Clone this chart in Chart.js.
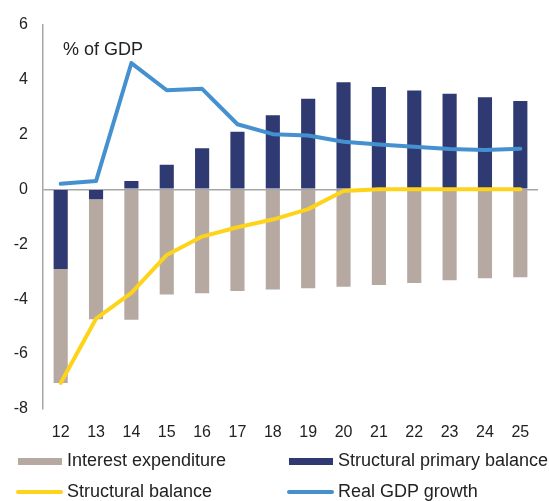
<!DOCTYPE html>
<html>
<head>
<meta charset="utf-8">
<script src="https://cdn.jsdelivr.net/npm/chart.js@4/dist/chart.umd.min.js"></script>
<style>
  html, body { margin: 0; padding: 0; background: #fff; }
  #wrap { position: relative; width: 549px; height: 501px; }
  #legend { position: absolute; left: 0; top: 0; width: 549px; height: 501px; pointer-events: none;
            font-family: "Liberation Sans", Arial, sans-serif; font-size: 18px; color: #222; }
  .item { position: absolute; line-height: 20px; white-space: nowrap; }
  .sw { position: absolute; }
</style>
</head>
<body>
<div id="wrap">
  <canvas id="chart" width="549" height="501"></canvas>
  <div id="legend"></div>
</div>
<script>
const years = ['12', '13', '14', '15', '16', '17', '18', '19', '20', '21', '22', '23', '24', '25'];
const primaryBalance = [-2.9, -0.36, 0.3, 0.9, 1.5, 2.1, 2.7, 3.3, 3.9, 3.73, 3.6, 3.48, 3.35, 3.22];
const interestExp = [-4.15, -4.37, -4.75, -3.83, -3.78, -3.7, -3.65, -3.6, -3.55, -3.48, -3.41, -3.31, -3.24, -3.2];
const structuralBalance = [-7.05, -4.71, -3.77, -2.39, -1.72, -1.38, -1.1, -0.72, -0.06, 0, 0, 0, 0, 0];
const gdpGrowth = [0.2, 0.3, 4.6, 3.61, 3.66, 2.37, 2.01, 1.96, 1.73, 1.63, 1.55, 1.47, 1.43, 1.48];
const yTicks = [-8, -6, -4, -2, 0, 2, 4, 6];

const NAVY = '#2f3a72', TAN = '#b6a9a2', YELLOW = '#fdd419', BLUE = '#4591d0', AXIS = '#a6a6a6';
const FONT = '"Liberation Sans", Arial, sans-serif';

const unitLabel = {
  id: 'unitLabel',
  afterDraw(chart) {
    const { ctx, chartArea } = chart;
    ctx.save();
    ctx.font = '18px ' + FONT;
    ctx.fillStyle = '#222';
    ctx.textBaseline = 'alphabetic';
    ctx.fillText('% of GDP', chartArea.left + 20, chartArea.top + 30);
    ctx.restore();
  }
};

const chart = new Chart(document.getElementById('chart'), {
  type: 'bar',
  data: {
    labels: years,
    datasets: [
      { type: 'line', label: 'Structural balance', data: structuralBalance, stack: 'sb',
        borderColor: YELLOW, backgroundColor: YELLOW, borderWidth: 4, pointRadius: 0,
        borderCapStyle: 'round', borderJoinStyle: 'round', tension: 0, legendPos: [2, 0] },
      { type: 'line', label: 'Real GDP growth', data: gdpGrowth, stack: 'gdp',
        borderColor: BLUE, backgroundColor: BLUE, borderWidth: 4, pointRadius: 0,
        borderCapStyle: 'round', borderJoinStyle: 'round', tension: 0, legendPos: [2, 1] },
      { label: 'Structural primary balance', data: primaryBalance, stack: 'bal',
        backgroundColor: NAVY, legendPos: [1, 1] },
      { label: 'Interest expenditure', data: interestExp, stack: 'bal',
        backgroundColor: TAN, legendPos: [1, 0] }
    ]
  },
  options: {
    responsive: false,
    animation: false,
    layout: { padding: { left: 0, right: 11, top: 23, bottom: 52 } },
    datasets: { bar: { categoryPercentage: 1, barPercentage: 0.4 } },
    plugins: { legend: { display: false }, tooltip: { enabled: false } },
    scales: {
      x: {
        stacked: true,
        grid: { display: false },
        border: { display: false },
        ticks: { color: '#222', font: { family: FONT, size: 16 }, padding: 6, maxRotation: 0 },
        afterFit(scale) { scale.height = 40; }
      },
      y: {
        stacked: true,
        min: -8, max: 6,
        afterBuildTicks(scale) { scale.ticks = yTicks.map(v => ({ value: v })); },
        grid: {
          drawTicks: false,
          color: c => (c.tick && c.tick.value === 0) ? AXIS : 'rgba(0,0,0,0)',
          lineWidth: 1.5
        },
        border: { display: true, color: AXIS, width: 1.5 },
        ticks: { color: '#222', font: { family: FONT, size: 16 }, padding: 15 },
        afterFit(scale) { scale.width = 43; }
      }
    }
  },
  plugins: [unitLabel]
});

// two-column legend under the chart
const legend = document.getElementById('legend');
const colX = [[18, 67], [289, 338]];
const rowTop = [450, 481];
chart.data.datasets.forEach(ds => {
  const [row, col] = ds.legendPos;
  const sw = document.createElement('div');
  sw.className = 'sw';
  if (ds.type === 'line') {
    Object.assign(sw.style, { left: (colX[col][0] - 2) + 'px', top: (rowTop[row - 1] + 9) + 'px',
      width: '47px', height: '4px', borderRadius: '2px', background: ds.borderColor });
  } else {
    Object.assign(sw.style, { left: colX[col][0] + 'px', top: (rowTop[row - 1] + 8) + 'px',
      width: '44px', height: '7px', background: ds.backgroundColor });
  }
  legend.appendChild(sw);
  const t = document.createElement('div');
  t.className = 'item';
  t.textContent = ds.label;
  t.style.left = colX[col][1] + 'px';
  t.style.top = rowTop[row - 1] + 'px';
  legend.appendChild(t);
});
</script>
</body>
</html>
